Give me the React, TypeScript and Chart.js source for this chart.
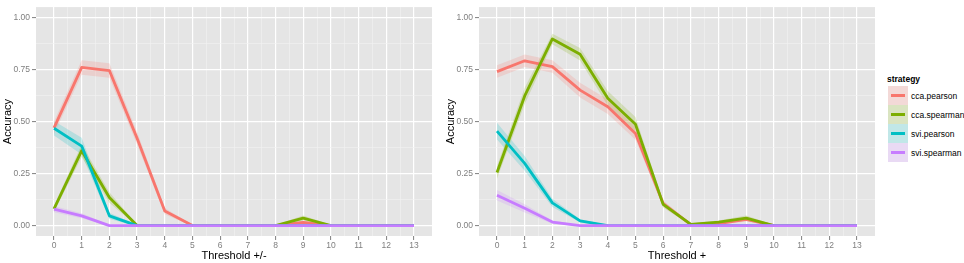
import React, { useEffect, useRef } from "react";
import { Chart, registerables } from "chart.js";
Chart.register(...registerables);

// ---- data ----
const thresholds = [0, 1, 2, 3, 4, 5, 6, 7, 8, 9, 10, 11, 12, 13];
const seriesNames = ["cca.pearson", "cca.spearman", "svi.pearson", "svi.spearman"];
const seriesColors = ["#F8766D", "#7CAE00", "#00BFC4", "#C77CFF"];
const yMajorTicks = [0, 0.25, 0.5, 0.75, 1];

// Panel 1: Threshold +/-
const pmCcaPearson = [0.47, 0.76, 0.745, 0.42, 0.07, 0, 0, 0, 0, 0.015, 0, 0, 0, 0];
const pmCcaSpearman = [0.08, 0.36, 0.135, 0, 0, 0, 0, 0, 0, 0.036, 0, 0, 0, 0];
const pmSviPearson = [0.468, 0.382, 0.047, 0, 0, 0, 0, 0, 0, 0, 0, 0, 0, 0];
const pmSviSpearman = [0.079, 0.047, 0, 0, 0, 0, 0, 0, 0, 0, 0, 0, 0, 0];
// ribbon half-widths
const pmCcaPearsonSe = [0.03, 0.035, 0.035, 0.03, 0.015, 0.003, 0.003, 0.003, 0.003, 0.01, 0.003, 0.003, 0.003, 0.003];
const pmCcaSpearmanSe = [0.015, 0.03, 0.025, 0.003, 0.003, 0.003, 0.003, 0.003, 0.003, 0.012, 0.003, 0.003, 0.003, 0.003];
const pmSviPearsonSe = [0.035, 0.04, 0.015, 0.003, 0.003, 0.003, 0.003, 0.003, 0.003, 0.003, 0.003, 0.003, 0.003, 0.003];
const pmSviSpearmanSe = [0.015, 0.012, 0.003, 0.003, 0.003, 0.003, 0.003, 0.003, 0.003, 0.003, 0.003, 0.003, 0.003, 0.003];

// Panel 2: Threshold +
const pCcaPearson = [0.74, 0.792, 0.764, 0.651, 0.571, 0.443, 0.106, 0.005, 0.01, 0.03, 0, 0, 0, 0];
const pCcaSpearman = [0.255, 0.623, 0.897, 0.823, 0.612, 0.487, 0.102, 0.006, 0.017, 0.036, 0, 0, 0, 0];
const pSviPearson = [0.454, 0.299, 0.109, 0.023, 0, 0, 0, 0, 0, 0, 0, 0, 0, 0];
const pSviSpearman = [0.146, 0.083, 0.017, 0, 0, 0, 0, 0, 0, 0, 0, 0, 0, 0];
const pCcaPearsonSe = [0.03, 0.03, 0.03, 0.035, 0.035, 0.03, 0.015, 0.005, 0.008, 0.01, 0.003, 0.003, 0.003, 0.003];
const pCcaSpearmanSe = [0.03, 0.04, 0.025, 0.03, 0.035, 0.035, 0.015, 0.005, 0.008, 0.012, 0.003, 0.003, 0.003, 0.003];
const pSviPearsonSe = [0.04, 0.035, 0.02, 0.008, 0.003, 0.003, 0.003, 0.003, 0.003, 0.003, 0.003, 0.003, 0.003, 0.003];
const pSviSpearmanSe = [0.025, 0.02, 0.008, 0.003, 0.003, 0.003, 0.003, 0.003, 0.003, 0.003, 0.003, 0.003, 0.003, 0.003];

const FONT = "'Liberation Sans', Arial, sans-serif";

function rgba(hex: string, a: number) {
  const n = parseInt(hex.slice(1), 16);
  return `rgba(${(n >> 16) & 255},${(n >> 8) & 255},${n & 255},${a})`;
}

const bgPlugin = {
  id: "panelBg",
  beforeDraw(chart: any) {
    const { ctx, chartArea } = chart;
    ctx.save();
    ctx.fillStyle = "#E5E5E5";
    ctx.fillRect(chartArea.left, chartArea.top, chartArea.right - chartArea.left, chartArea.bottom - chartArea.top);
    ctx.restore();
  },
};

const isMajorX = (v: number) => Number.isInteger(v);
const isMajorY = (v: number) => Math.abs(v * 4 - Math.round(v * 4)) < 1e-9;

function Panel({ xTitle, values, spreads, left }: { xTitle: string; values: number[][]; spreads: number[][]; left: number }) {
  const ref = useRef<HTMLCanvasElement>(null);
  useEffect(() => {
    const datasets: any[] = [];
    values.forEach((vals, i) => {
      const col = seriesColors[i];
      datasets.push({
        data: thresholds.map((t, j) => ({ x: t, y: vals[j] + spreads[i][j] })),
        borderWidth: 0,
        pointRadius: 0,
        fill: false,
        backgroundColor: "rgba(0,0,0,0)",
        borderColor: "rgba(0,0,0,0)",
        order: 20 + i,
      });
      datasets.push({
        data: thresholds.map((t, j) => ({ x: t, y: vals[j] - spreads[i][j] })),
        borderWidth: 0,
        pointRadius: 0,
        fill: "-1",
        backgroundColor: rgba(col, 0.2),
        borderColor: "rgba(0,0,0,0)",
        order: 20 + i,
      });
    });
    values.forEach((vals, i) => {
      datasets.push({
        label: seriesNames[i],
        data: thresholds.map((t, j) => ({ x: t, y: vals[j] })),
        borderColor: seriesColors[i],
        borderWidth: 2.8,
        pointRadius: 0,
        fill: false,
        tension: 0,
        borderJoinStyle: "round",
        order: 4 - i,
      });
    });

    const xTicks: number[] = [];
    thresholds.forEach((t, j) => {
      xTicks.push(t);
      if (j < thresholds.length - 1) xTicks.push((t + thresholds[j + 1]) / 2);
    });
    const yTicks: number[] = [];
    yMajorTicks.forEach((t, j) => {
      yTicks.push(t);
      if (j < yMajorTicks.length - 1) yTicks.push((t + yMajorTicks[j + 1]) / 2);
    });

    const chart = new Chart(ref.current!, {
      type: "line",
      data: { datasets },
      plugins: [bgPlugin],
      options: {
        animation: false,
        responsive: false,
        events: [],
        layout: { padding: { top: 2, right: 8, left: 0, bottom: 0 } },
        plugins: { legend: { display: false }, tooltip: { enabled: false } },
        scales: {
          x: {
            type: "linear",
            min: -0.65,
            max: 13.65,
            afterBuildTicks: (s: any) => {
              s.ticks = xTicks.map((v) => ({ value: v }));
            },
            afterFit: (s: any) => {
              s.height = 27;
            },
            border: { display: false },
            grid: {
              color: (c: any) => (isMajorX(c.tick.value) ? "#FFFFFF" : "#F2F2F2"),
              lineWidth: (c: any) => (isMajorX(c.tick.value) ? 1.2 : 0.6),
              tickColor: (c: any) => (isMajorX(c.tick.value) ? "#7F7F7F" : "rgba(0,0,0,0)"),
              tickWidth: 1,
              tickLength: 4,
            },
            ticks: {
              autoSkip: false,
              maxRotation: 0,
              padding: 1,
              color: "#7F7F7F",
              font: { family: FONT, size: 8.5 },
              callback: (v: any) => (isMajorX(Number(v)) ? String(v) : ""),
            },
            title: {
              display: true,
              text: xTitle,
              color: "#000000",
              font: { family: FONT, size: 11 },
              padding: { top: 0, bottom: 0 },
            },
          },
          y: {
            type: "linear",
            min: -0.05,
            max: 1.05,
            afterBuildTicks: (s: any) => {
              s.ticks = yTicks.map((v) => ({ value: v }));
            },
            afterFit: (s: any) => {
              s.width = 36;
            },
            border: { display: false },
            grid: {
              color: (c: any) => (isMajorY(c.tick.value) ? "#FFFFFF" : "#F2F2F2"),
              lineWidth: (c: any) => (isMajorY(c.tick.value) ? 1.2 : 0.6),
              tickColor: (c: any) => (isMajorY(c.tick.value) ? "#7F7F7F" : "rgba(0,0,0,0)"),
              tickWidth: 1,
              tickLength: 4,
            },
            ticks: {
              autoSkip: false,
              padding: 2,
              color: "#7F7F7F",
              font: { family: FONT, size: 8.5 },
              callback: (v: any) => (isMajorY(Number(v)) ? Number(v).toFixed(2) : ""),
            },
            title: {
              display: true,
              text: "Accuracy",
              color: "#000000",
              font: { family: FONT, size: 11 },
              padding: { top: 1, bottom: 0 },
            },
          },
        },
      } as any,
    });
    return () => chart.destroy();
  }, []);
  return (
    <canvas
      ref={ref}
      width={440}
      height={263}
      style={{ position: "absolute", left, top: 0, width: 440, height: 263 }}
    />
  );
}

function Legend({ left, top }: { left: number; top: number }) {
  return (
    <div style={{ position: "absolute", left, top, fontFamily: FONT }}>
      <div style={{ fontSize: 8.5, fontWeight: "bold", height: 14, lineHeight: "14px", marginLeft: -1 }}>strategy</div>
      {seriesNames.map((name, i) => (
        <div key={name} style={{ display: "flex", alignItems: "center", height: 19 }}>
          <div style={{ position: "relative", width: 20, height: 19, background: "#F2F2F2" }}>
            <div style={{ position: "absolute", inset: 0, background: rgba(seriesColors[i], 0.2) }} />
            <div
              style={{
                position: "absolute",
                left: 3,
                width: 14,
                top: 8,
                height: 3,
                background: seriesColors[i],
              }}
            />
          </div>
          <div style={{ fontSize: 8.5, marginLeft: 3, color: "#000" }}>{name}</div>
        </div>
      ))}
    </div>
  );
}

export default function App() {
  useEffect(() => {
    document.body.style.margin = "0";
  }, []);
  return (
    <div style={{ position: "relative", width: 964, height: 263, background: "#FFFFFF", overflow: "hidden" }}>
      <Panel
        xTitle="Threshold +/-"
        values={[pmCcaPearson, pmCcaSpearman, pmSviPearson, pmSviSpearman]}
        spreads={[pmCcaPearsonSe, pmCcaSpearmanSe, pmSviPearsonSe, pmSviSpearmanSe]}
        left={0}
      />
      <Panel
        xTitle="Threshold +"
        values={[pCcaPearson, pCcaSpearman, pSviPearson, pSviSpearman]}
        spreads={[pCcaPearsonSe, pCcaSpearmanSe, pSviPearsonSe, pSviSpearmanSe]}
        left={443}
      />
      <Legend left={888} top={72} />
    </div>
  );
}
